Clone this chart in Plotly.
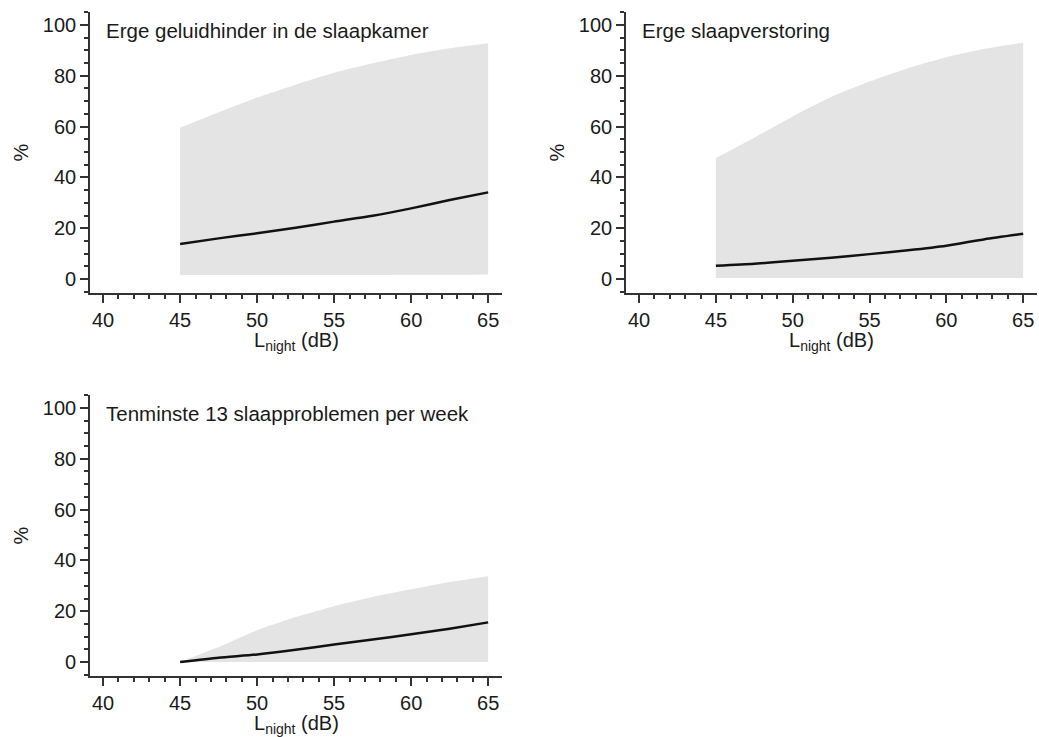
import plotly.graph_objects as go

# ---- data ----
lnight = [45, 47.5, 50, 52.5, 55, 57.5, 60, 62.5, 65]

titles = ["Erge geluidhinder in de slaapkamer",
          "Erge slaapverstoring",
          "Tenminste 13 slaapproblemen per week"]

p1_mean = [13.8, 16.0, 18.0, 20.2, 22.6, 24.9, 27.8, 31.1, 34.1]
p1_low = [1.6, 1.6, 1.6, 1.6, 1.6, 1.6, 1.7, 1.7, 1.8]
p1_high = [59.5, 65.6, 71.4, 76.5, 81.2, 84.9, 88.2, 90.8, 92.8]

p2_mean = [5.2, 6.0, 7.2, 8.4, 9.8, 11.3, 13.1, 15.7, 17.8]
p2_low = [0.4, 0.4, 0.4, 0.4, 0.4, 0.4, 0.4, 0.4, 0.4]
p2_high = [47.6, 55.6, 64.0, 71.6, 77.7, 83.0, 87.3, 90.6, 93.0]

p3_mean = [0.0, 1.7, 3.0, 4.8, 6.9, 8.9, 10.9, 13.1, 15.6]
p3_low = [0.0, 0.0, 0.0, 0.0, 0.0, 0.0, 0.0, 0.0, 0.0]
p3_high = [0.0, 5.9, 12.5, 17.7, 22.0, 25.6, 28.6, 31.5, 33.8]

x_ticks = [40, 45, 50, 55, 60, 65]
y_ticks = [0, 20, 40, 60, 80, 100]

W, H = 1039, 737
FONT = "Liberation Sans, Arial, sans-serif"
TXT = "#1a1a1a"
AX = "#333333"
FILL = "#e4e4e4"

panels = [
    dict(mean=p1_mean, low=p1_low, high=p1_high, title=titles[0],
         box=(90, 502, 12, 293)),
    dict(mean=p2_mean, low=p2_low, high=p2_high, title=titles[1],
         box=(626, 1037, 12, 293)),
    dict(mean=p3_mean, low=p3_low, high=p3_high, title=titles[2],
         box=(90, 502, 395, 676)),
]

fig = go.Figure()
annotations = []
XR = [39.15, 65.9]
YR = [-5.5, 105.1]

for i, p in enumerate(panels):
    n = "" if i == 0 else str(i + 1)
    xa, ya = "x" + n, "y" + n
    x0, x1, y0, y1 = p["box"]
    fig.add_trace(go.Scatter(x=lnight, y=p["low"], mode="lines", line=dict(width=0, shape="spline", smoothing=0.6),
                             xaxis=xa, yaxis=ya, showlegend=False, hoverinfo="skip"))
    fig.add_trace(go.Scatter(x=lnight, y=p["high"], mode="lines", line=dict(width=0, shape="spline", smoothing=0.6),
                             fill="tonexty", fillcolor=FILL,
                             xaxis=xa, yaxis=ya, showlegend=False, hoverinfo="skip"))
    fig.add_trace(go.Scatter(x=lnight, y=p["mean"], mode="lines",
                             line=dict(color="#111111", width=2.5, shape="spline", smoothing=0.6),
                             xaxis=xa, yaxis=ya, showlegend=False))
    common = dict(showline=True, linecolor=AX, linewidth=1.6, ticks="outside", tickcolor=AX,
                  tickwidth=1.6, ticklen=8, showgrid=False, zeroline=False,
                  tickfont=dict(family=FONT, size=20, color=TXT), fixedrange=True)
    fig.update_layout(**{
        "xaxis" + n: dict(domain=[x0 / W, x1 / W], range=XR, anchor=ya,
                          tickvals=x_ticks,
                          minor=dict(dtick=1, tick0=40, ticks="outside", ticklen=4, tickcolor=AX, tickwidth=1.6),
                          **common),
        "yaxis" + n: dict(domain=[1 - y1 / H, 1 - y0 / H], range=YR, anchor=xa,
                          tickvals=y_ticks,
                          minor=dict(dtick=5, tick0=0, ticks="outside", ticklen=4, tickcolor=AX, tickwidth=1.6),
                          **common),
    })
    # panel title
    annotations.append(dict(text=p["title"], x=(x0 + 14) / W, y=1 - (y0 + 18) / H,
                            xref="paper", yref="paper", xanchor="left", yanchor="middle",
                            showarrow=False, font=dict(family=FONT, size=20.5, color=TXT)))
    # y title
    annotations.append(dict(text="%", x=(x0 - 70) / W, y=1 - ((y0 + y1) / 2) / H,
                            xref="paper", yref="paper", xanchor="center", yanchor="middle",
                            textangle=-90, showarrow=False, font=dict(family=FONT, size=20, color=TXT)))
    # x title
    annotations.append(dict(text="L<sub>night</sub> (dB)", x=((x0 + x1) / 2) / W, y=1 - (y1 + 48) / H,
                            xref="paper", yref="paper", xanchor="center", yanchor="middle",
                            showarrow=False, font=dict(family=FONT, size=20, color=TXT)))

fig.update_layout(width=W, height=H, margin=dict(l=0, r=0, t=0, b=0),
                  paper_bgcolor="white", plot_bgcolor="white",
                  annotations=annotations, showlegend=False)

fig.write_html("out.html")
